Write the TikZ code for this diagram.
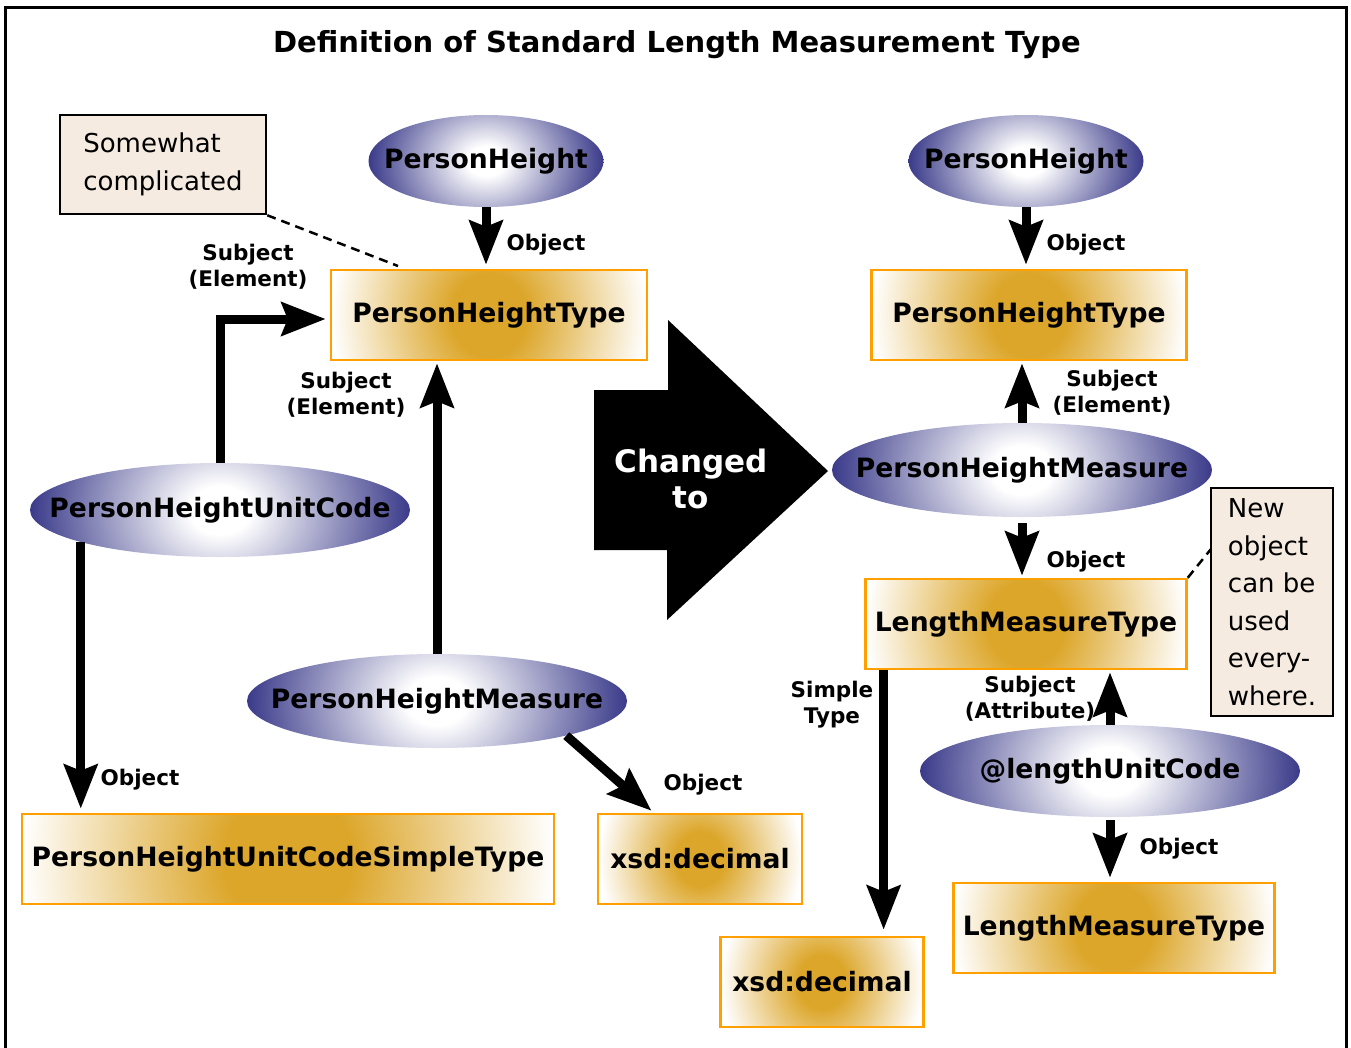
\documentclass[tikz,border=0pt]{standalone}
\usepackage{fontspec}
\setmainfont{DejaVu Sans}
\usetikzlibrary{arrows.meta,calc,shapes.geometric,positioning}

\definecolor{ellblue}{RGB}{58,58,138}
\definecolor{boxgold}{RGB}{220,166,42}
\definecolor{boxorange}{RGB}{255,160,0}
\definecolor{notefill}{RGB}{245,235,224}

\pgfdeclareradialshading{bluefade}{\pgfpoint{0bp}{0bp}}{color(0bp)=(white); color(4bp)=(white); color(25bp)=(ellblue); color(50bp)=(ellblue)}
\pgfdeclareradialshading{goldfade}{\pgfpoint{0bp}{0bp}}{color(0bp)=(boxgold); color(6bp)=(boxgold); color(25bp)=(white); color(50bp)=(white)}

\newcommand{\ellname}[1]{\makebox[0pt]{#1}}

\tikzset{
    fadefill/.style 2 args={path picture={
        \shade[shading=#1] let \p1=($(path picture bounding box.east)-(path picture bounding box.west)$) in
            (path picture bounding box.center) ellipse [x radius=0.5*\x1, y radius=#2*\x1];}},
    elem/.style={ellipse, minimum width=380pt, minimum height=94pt, inner sep=0pt,
        fill=white, fadefill={bluefade}{0.4}, font=\fontsize{26.6}{31}\bfseries},
    typebox/.style={rectangle, draw=boxorange, line width=2.5pt, minimum height=90pt, inner sep=0pt,
        fill=white, fadefill={goldfade}{0.55}, font=\fontsize{26.6}{31}\bfseries},
    note/.style={rectangle, draw=black, line width=2.5pt, fill=notefill, align=left, inner sep=0pt,
        font=\fontsize{26}{37.5}\selectfont},
    lbl/.style={align=center, inner sep=0pt, font=\fontsize{21.5}{26}\bfseries},
    conn/.style={line width=9pt, -{Stealth[length=44pt,width=33pt,inset=6pt]}, shorten >=4pt},
    callout/.style={line width=2.5pt, dash pattern=on 9pt off 6pt},
}

\begin{document}
\begin{tikzpicture}[x=1pt,y=-1pt]
    \useasboundingbox (0,0) rectangle (1351,1047);
    \draw[line width=3pt] (5,7) rectangle (1346,1070);

    \node[font=\fontsize{29}{34}\bfseries] (title) at (677,45) {Definition of Standard Length Measurement Type};

    % old definition
    \node[elem, minimum width=235pt, minimum height=92pt] (phL) at (486,161) {\ellname{PersonHeight}};
    \node[typebox, minimum width=316pt] (phtL) at (489,315) {PersonHeightType};
    \node[elem] (uc) at (220,510) {\ellname{PersonHeightUnitCode}};
    \node[elem] (pmL) at (437,701) {\ellname{PersonHeightMeasure}};
    \node[typebox, minimum width=532pt] (sut) at (288,859) {PersonHeightUnitCodeSimpleType};
    \node[typebox, minimum width=204pt] (xdL) at (700,859) {xsd:decimal};

    \node[note, minimum width=206pt, minimum height=99pt] (noteA) at (163,164.5) {Somewhat\\complicated};
    \coordinate (calloutA) at (398,266);
    \draw[callout] (noteA.south east) -- (calloutA);

    \draw[conn] (phL.south) -- (phL.south |- phtL.north);
    \draw[conn] (uc.north) |- ($(phtL.west)+(0,4)$);
    \draw[conn] (uc.193) -- (uc.193 |- sut.north);
    \draw[conn, shorten >=2pt] (pmL.north) -- (pmL.north |- phtL.south);
    \draw[conn, shorten >=3pt] (pmL.-15) -- (xdL.135);

    \node[lbl] (lobjA) at (546,245) {Object};
    \node[lbl] (lsubA) at (248,267) {Subject\\(Element)};
    \node[lbl] (lsubB) at (346,395) {Subject\\(Element)};
    \node[lbl] (lobjB) at (140,780) {Object};
    \node[lbl] (lobjC) at (703,785) {Object};

    % big arrow
    \fill (594,390) -- (668,390) -- (668,320) -- (828,471) -- (667,620) -- (667,550) -- (594,550) -- cycle;
    \node[text=white, align=center, inner sep=0pt, font=\fontsize{31}{36}\bfseries] (chg) at (691,479) {Changed\\to};

    % new definition
    \node[elem, minimum width=235pt, minimum height=92pt] (phR) at (1026,161) {\ellname{PersonHeight}};
    \node[typebox, minimum width=315pt] (phtR) at (1029,315) {PersonHeightType};
    \node[elem] (pmR) at (1022,470) {\ellname{PersonHeightMeasure}};
    \node[typebox, minimum width=321pt] (lmt) at (1026,624) {LengthMeasureType};
    \node[elem, minimum height=92pt] (luc) at (1110,771) {\ellname{@lengthUnitCode}};
    \node[typebox, minimum width=203pt] (xdR) at (822,982) {xsd:decimal};
    \node[typebox, minimum width=321pt] (lmtB) at (1114,928) {LengthMeasureType};

    \node[note, minimum width=122pt, minimum height=228pt] (noteB) at (1272,602) {New\\object\\can be\\used\\every-\\where.};
    \coordinate (calloutB) at (1211,549);
    \draw[callout] (lmt.north east) -- (calloutB);

    \draw[conn] (phR.south) -- (phR.south |- phtR.north);
    \draw[conn, shorten >=2pt] (pmR.north) -- (pmR.north |- phtR.south);
    \draw[conn, shorten <=6pt, shorten >=2pt] (pmR.south) -- (pmR.south |- lmt.north);
    \draw[conn, shorten >=6pt] (lmt.198) -- (lmt.198 |- xdR.north);
    \draw[conn, shorten >=2pt] (luc.north) -- (luc.north |- lmt.south);
    \draw[conn, shorten <=3pt] (luc.south) -- (luc.south |- lmtB.north);

    \node[lbl] (lobjD) at (1086,245) {Object};
    \node[lbl] (lsubC) at (1112,393) {Subject\\(Element)};
    \node[lbl] (lobjE) at (1086,562) {Object};
    \node[lbl] (lsimp) at (832,705) {Simple\\Type};
    \node[lbl] (lsubD) at (1030,699) {Subject\\(Attribute)};
    \node[lbl] (lobjF) at (1179,849) {Object};
\end{tikzpicture}
\end{document}
